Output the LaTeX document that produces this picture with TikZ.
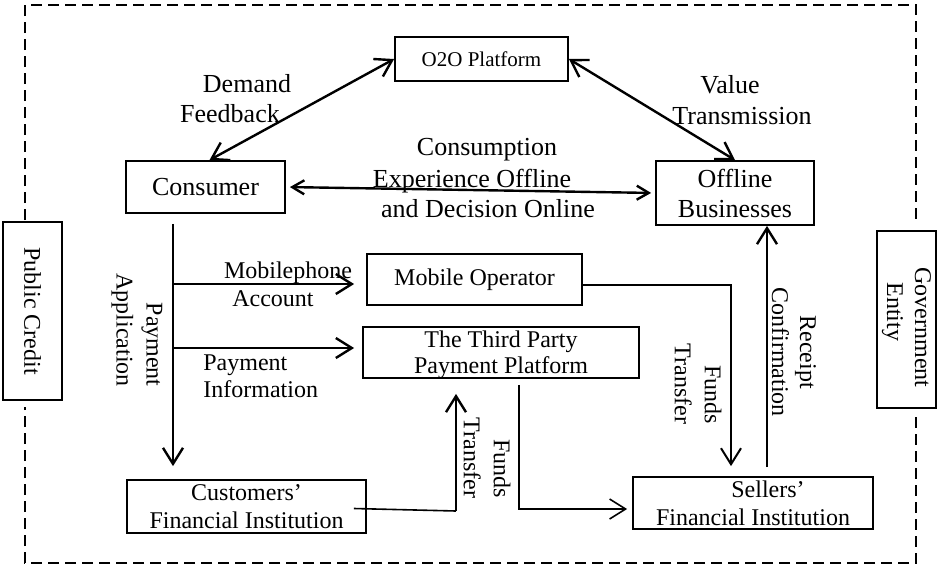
\documentclass[tikz,border=0pt]{standalone}
\usepackage{fontspec}
\setmainfont{Liberation Serif}
\usetikzlibrary{arrows.meta}
\begin{document}
\begin{tikzpicture}[x=0.5pt,y=-0.5pt,
  >={Straight Barb[length=8pt,width=10pt]},
  box/.style={draw, line width=0.9pt, inner sep=0pt, align=center},
  big/.style={font=\fontsize{13}{15}\selectfont, inner sep=0pt},
  small/.style={font=\fontsize{12}{14}\selectfont, inner sep=0pt},
  conn/.style={line width=1.2pt},
  thinconn/.style={line width=0.8pt},
  frame/.style={line width=0.6pt, dash pattern=on 5.5pt off 3pt},
  vlabel/.style={font=\fontsize{12}{15}\selectfont, inner sep=0pt, rotate=-90}]
\useasboundingbox (0,0) rectangle (937,568);
% frame
\draw[frame] (25,220) -- (25,5) -- (916,5) -- (916,222);
\draw[frame] (916,417) -- (916,563) -- (25,563) -- (25,407);
% boxes
\node[box, minimum width=86.5pt, minimum height=22pt, font=\fontsize{10.5}{12}\selectfont] (o2o) at (481.5,59) {O2O Platform};
\node[box, big, minimum width=79.5pt, minimum height=26pt] (consumer) at (205.5,187) {Consumer};
\node[box, big, minimum width=79pt, minimum height=32pt] (offline) at (735,193) {Offline\\Businesses};
\node[box, small, minimum width=107.5pt, minimum height=25.5pt] (mobile) at (474.5,279.5) {Mobile Operator};
\node[box, font=\fontsize{12}{13}\selectfont, text depth=0pt, minimum width=138pt, minimum height=25.5pt] (third) at (501,352.5) {The Third Party\\Payment Platform};
\node[box, small, text depth=0pt, minimum width=119.5pt, minimum height=26.5pt] (custom) at (246.5,506.5) {Customers’\\Financial Institution};
\node[box, small, text depth=0pt, minimum width=120pt, minimum height=26pt] (sellers) at (753,503) {\hspace*{15pt}Sellers’\\Financial Institution};
\node[box, small, rotate=-90, minimum width=89pt, minimum height=29.5pt] (public) at (32.5,311) {Public Credit};
\node[box, small, rotate=-90, align=left, minimum width=88.5pt, minimum height=29.5pt] (gov) at (906.5,319.5) {\hspace*{8pt}Government\\\hspace*{15.5pt}Entity};
% labels
\node[big, anchor=base] (ldem) at (247,92) {Demand};
\node[big, anchor=base] (lfeed) at (230,122) {Feedback};
\node[big, anchor=base] (lval) at (730,93) {Value};
\node[big, anchor=base] (ltrans) at (742,124) {Transmission};
\node[big, anchor=base] (lcons1) at (487,155) {Consumption};
\node[big, anchor=base] (lcons2) at (472,187) {Experience Offline};
\node[big, anchor=base] (lcons3) at (488,217) {and Decision Online};
\node[small, anchor=base] (lmob1) at (288,278) {Mobilephone};
\node[small, anchor=base] (lmob2) at (273,306) {Account};
\node[small, anchor=base west] (lpay1) at (203,370) {Payment};
\node[small, anchor=base west] (lpay2) at (203,397) {Information};
\node[vlabel, align=right] (lpa) at (137,330) {Payment\\Application};
\node[vlabel, align=right] (lft1) at (698,384) {Funds\\Transfer};
\node[vlabel, align=center, font=\fontsize{12}{14}\selectfont] (lrc) at (794,352) {Receipt\\Confirmation};
\node[vlabel, align=right] (lft2) at (487,458) {Funds\\Transfer};
% connectors
\draw[conn, <->] ([xshift=2pt]consumer.north) -- (o2o.west);
\draw[conn, <->] (o2o.east) -- (offline.north);
\draw[conn, {Straight Barb[length=6pt,width=7pt]}-{Straight Barb[length=6pt,width=7pt]}, shorten <=2pt, shorten >=2pt] (consumer.east) -- (offline.west);
\draw[conn, ->, shorten <=5pt, shorten >=6.5pt] ([xshift=-16.25pt]consumer.south) -- ([xshift=-16.25pt]consumer.south |- custom.north);
\coordinate (j1) at (173,284);
\coordinate (j2) at (173,348);
\draw[conn, ->, shorten >=6pt] (j1) -- (j1 -| mobile.west);
\draw[conn, ->, shorten >=4pt] (j2) -- (j2 -| third.west);
\draw[line width=1pt, ->, shorten >=5pt] ([yshift=-2.5pt]mobile.east) -| ([xshift=-11pt]sellers.north);
\draw[conn, ->, shorten <=4.5pt] ([xshift=7pt]sellers.north) -- ([xshift=16pt]offline.south);
\draw[thinconn, ->, shorten <=3pt, shorten >=2.5pt] ([xshift=9pt]third.south) |- ([yshift=-3pt]sellers.west);
\coordinate (c1) at (456,511);
\draw[thinconn] ([xshift=-6.5pt,yshift=-1pt]custom.east) -- (c1);
\draw[conn, ->, shorten >=7.5pt] (c1) -- (c1 |- third.south);
\end{tikzpicture}
\end{document}
